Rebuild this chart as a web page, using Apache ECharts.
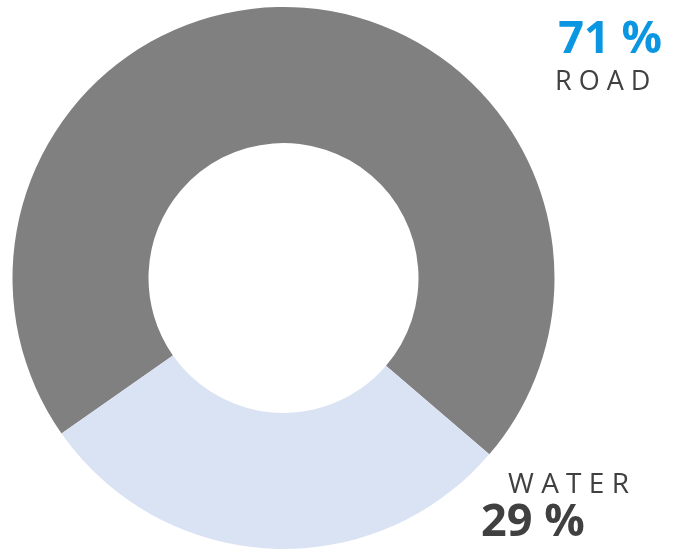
<!DOCTYPE html>
<html>
<head>
<meta charset="utf-8">
<script src="https://cdn.jsdelivr.net/npm/echarts@6/dist/echarts.min.js"></script>
<style>
  html, body { margin: 0; padding: 0; background: #fff; }
  #main { width: 674px; height: 549px; }
</style>
</head>
<body>
<div id="main"></div>
<script>
var NAMES = ["ROAD", "WATER"];
var VALUES = [71, 29];
var COLORS = ["#808080", "#dae3f3"];

var myChart = echarts.init(document.getElementById('main'));

// spaced caps like the original
function spaced(s) {
  return s.split("").join(" ");
}

var FONT = "'Open Sans', 'Noto Sans', sans-serif";

myChart.setOption({
  animation: false,
  series: [{
    type: 'pie',
    center: [283.5, 278],
    radius: [135, 271],
    startAngle: 215,
    clockwise: true,
    silent: true,
    label: { show: false },
    labelLine: { show: false },
    data: NAMES.map(function (n, i) {
      return { name: n, value: VALUES[i], itemStyle: { color: COLORS[i] } };
    })
  }],
  graphic: [
    {
      type: 'text', right: 12, top: 18,
      style: { text: VALUES[0] + " %", font: "bold 45px " + FONT, fill: "#0a96e0" }
    },
    {
      type: 'text', left: 555, top: 69,
      style: { text: spaced(NAMES[0]), font: "27px " + FONT, fill: "#404040" }
    },
    {
      type: 'text', left: 508, top: 471,
      style: { text: spaced(NAMES[1]), font: "28px " + FONT, fill: "#404040" }
    },
    {
      type: 'text', left: 481, top: 501,
      style: { text: VALUES[1] + " %", font: "bold 45px " + FONT, fill: "#404040" }
    }
  ]
});
window.onresize = myChart.resize;
</script>
</body>
</html>
